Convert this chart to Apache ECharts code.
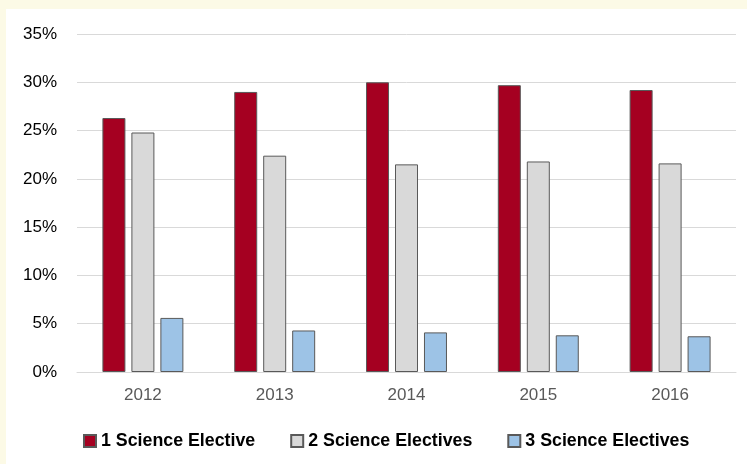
<!DOCTYPE html>
<html>
<head>
<meta charset="utf-8">
<script src="https://cdn.jsdelivr.net/npm/echarts@6/dist/echarts.min.js"></script>
<style>
html,body{margin:0;padding:0;background:#FCFAE6;width:747px;height:464px;overflow:hidden;}
#chart{position:absolute;left:6px;top:9px;width:741px;height:455px;background:#ffffff;}
</style>
</head>
<body>
<div id="chart"></div>
<script>
const categories = ['2012', '2013', '2014', '2015', '2016'];
const seriesNames = ['1 Science Elective', '2 Science Electives', '3 Science Electives'];
const oneElective = [26.3, 29.0, 30.0, 29.7, 29.2];
const twoElectives = [24.8, 22.4, 21.5, 21.8, 21.6];
const threeElectives = [5.6, 4.3, 4.1, 3.8, 3.7];
const yTicks = [0, 5, 10, 15, 20, 25, 30, 35];

const colors = ['#A50021', '#D9D9D9', '#9DC3E6'];
const values = [oneElective, twoElectives, threeElectives];

const chart = echarts.init(document.getElementById('chart'));
chart.setOption({
  animation: false,
  backgroundColor: '#ffffff',
  grid: { left: 71, right: 11, top: 25, bottom: 92, containLabel: false },
  legend: {
    left: 72, top: 418,
    itemWidth: 12, itemHeight: 12, itemGap: 35,
    icon: 'rect',
    textStyle: { fontFamily: '"Liberation Sans", Arial, sans-serif', fontWeight: 'bold', fontSize: 17.8, color: '#000000' },
    data: seriesNames
  },
  xAxis: {
    type: 'category',
    data: categories,
    axisLine: { show: true, lineStyle: { color: '#D9D9D9', width: 1 } },
    axisTick: { show: false },
    axisLabel: { color: '#595959', fontFamily: '"Liberation Sans", Arial, sans-serif', fontSize: 17, margin: 15 }
  },
  yAxis: {
    type: 'value',
    min: yTicks[0], max: yTicks[yTicks.length - 1], interval: 5,
    axisLine: { show: false },
    axisTick: { show: false },
    splitLine: { lineStyle: { color: '#D9D9D9', width: 1 } },
    axisLabel: { color: '#000000', fontFamily: '"Liberation Sans", Arial, sans-serif', fontSize: 17, margin: 20, formatter: v => v + '%' }
  },
  series: seriesNames.map((name, i) => ({
    name: name,
    type: 'bar',
    data: values[i],
    barWidth: 23,
    barGap: '26%',
    itemStyle: { color: colors[i], borderColor: '#595959', borderWidth: 1 }
  }))
});
</script>
</body>
</html>
